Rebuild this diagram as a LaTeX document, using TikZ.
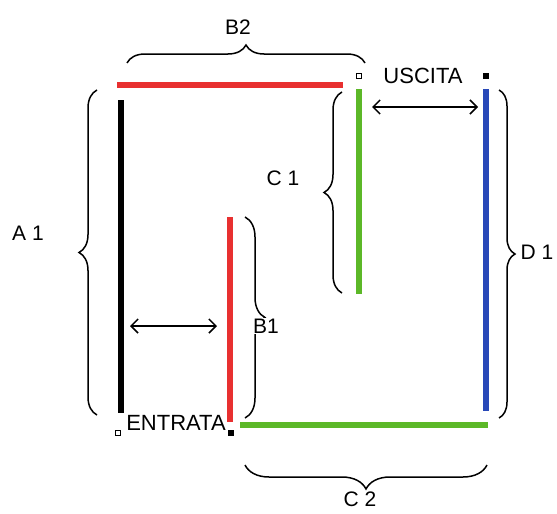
\documentclass[tikz,border=0pt]{standalone}
\usepackage{fontspec}
\setmainfont{Liberation Sans}
\usetikzlibrary{arrows.meta,decorations.pathreplacing}
\definecolor{wred}{RGB}{232,48,48}
\definecolor{wgreen}{RGB}{92,184,40}
\definecolor{wblue}{RGB}{40,72,184}
\begin{document}
\begin{tikzpicture}[x=1pt,y=-1pt,
  wall/.style={line width=6pt},
  brc/.style={decorate,decoration={brace,amplitude=#1},line width=1.5pt},
  brc/.default=18pt,
  lbl/.style={font=\fontsize{21}{24}\selectfont,inner sep=1pt},
  sign/.style={font=\fontsize{22}{25}\selectfont,inner sep=0pt},
  dbl/.style={{Straight Barb[length=7pt,width=14pt]}-{Straight Barb[length=7pt,width=14pt]},line width=1.5pt},
  osq/.style={draw,line width=1pt,fill=white,minimum size=5pt,inner sep=0pt},
  fsq/.style={fill=black,minimum size=6pt,inner sep=0pt}
]
\useasboundingbox (0,0) rectangle (557,514);
% walls
\coordinate (k1) at (121,100); \coordinate (k2) at (121,413);
\coordinate (r1) at (117,85);  \coordinate (r2) at (343,85);
\coordinate (g1) at (359,89);  \coordinate (g2) at (359,294);
\coordinate (u1) at (486,89);  \coordinate (u2) at (486,411);
\coordinate (q1) at (230,217); \coordinate (q2) at (230,422);
\coordinate (h1) at (240,425); \coordinate (h2) at (488,425);
\draw[wall,black] (k1) -- (k2);
\draw[wall,wred] (r1) -- (r2);
\draw[wall,wgreen] (g1) -- (g2);
\draw[wall,wblue] (u1) -- (u2);
\draw[wall,wred] (q1) -- (q2);
\draw[wall,wgreen] (h1) -- (h2);
% markers
\node[osq] (m1) at (359,76) {};
\node[fsq] (m2) at (486,76) {};
\node[osq] (m3) at (118,433) {};
\node[fsq] (m4) at (231,433) {};
% braces
\coordinate (a1s) at (97,415);  \coordinate (a1e) at (97,90);
\coordinate (c1s) at (342,293); \coordinate (c1e) at (342,92);
\coordinate (b1s) at (245,217); \coordinate (b1e) at (245,418);
\coordinate (d1s) at (499,90);  \coordinate (d1e) at (499,418);
\coordinate (b2s) at (127,63);  \coordinate (b2e) at (365,63);
\coordinate (c2s) at (487,465); \coordinate (c2e) at (245,465);
\draw[brc] (a1s) -- (a1e);
\draw[brc] (c1s) -- (c1e);
\draw[brc=20pt] (b1s) -- (b1e);
\draw[brc=16pt] (d1s) -- (d1e);
\draw[brc] (b2s) -- (b2e);
\draw[brc=24pt] (c2s) -- (c2e);
% arrows
\coordinate (e1) at (372,107); \coordinate (e2) at (478,107);
\coordinate (f1) at (130,326); \coordinate (f2) at (217,326);
\draw[dbl] (e1) -- (e2);
\draw[dbl] (f1) -- (f2);
% labels
\node[lbl] (tB2) at (238,27) {B2};
\node[sign] (tU) at (423,76) {USCITA};
\node[lbl] (tC1) at (283,178) {C 1};
\node[lbl] (tA1) at (28,233) {A 1};
\node[lbl,fill=white] (tB1) at (266,326) {B1};
\node[lbl] (tD1) at (537,252) {D 1};
\node[sign] (tE) at (176,423) {ENTRATA};
\node[lbl] (tC2) at (360,499) {C 2};
\end{tikzpicture}
\end{document}
